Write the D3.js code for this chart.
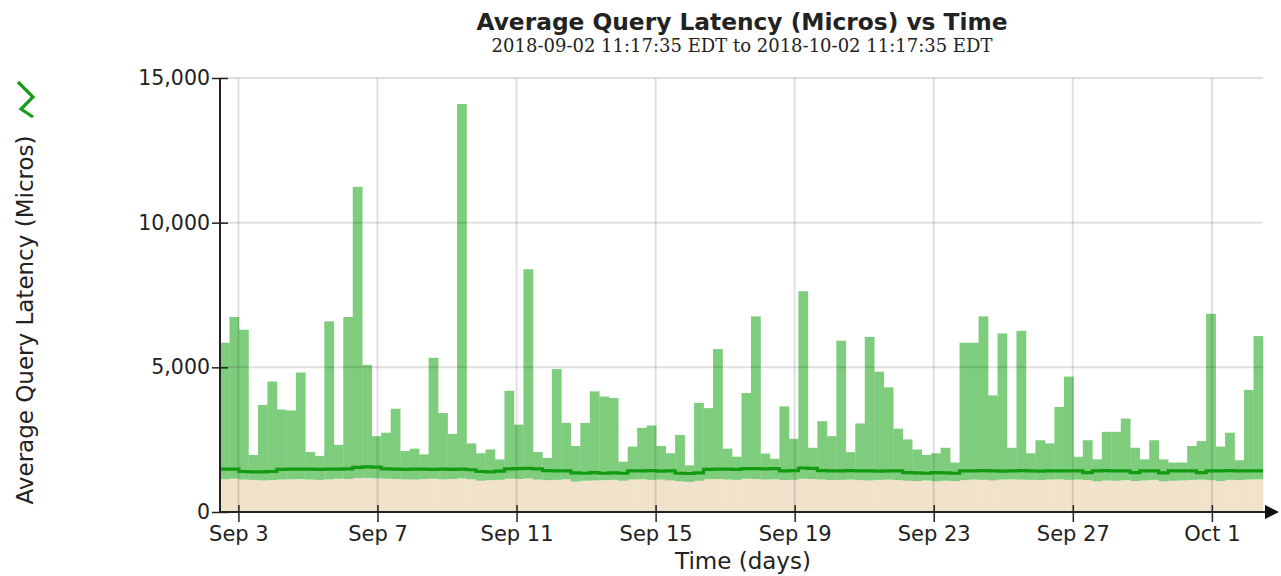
<!DOCTYPE html>
<html>
<head>
<meta charset="utf-8">
<script src="https://cdn.jsdelivr.net/npm/d3@7"></script>
<style>
  body { margin: 0; background: #fff; }
  svg text { font-family: "DejaVu Sans", sans-serif; fill: #222; }
  .sub { font-family: "DejaVu Serif", serif; }
</style>
</head>
<body>
<svg id="chart" width="1281" height="576"></svg>
<script>
// ── Data: 110 sample bins, 2018-09-02 11:17:35 → 2018-10-02 11:17:35 (EDT) ──
const rangeStart = new Date("2018-09-02T11:17:35");
const rangeEnd   = new Date("2018-10-02T11:17:35");

// max latency per bin (µs) — light green bars
const maxLatency = [
  5850, 6740, 6300, 1970, 3700, 4510, 3540, 3510, 4820, 2070,
  1940, 6590, 2320, 6740, 11240, 5080, 2620, 2740, 3570, 2110,
  2190, 1990, 5330, 3420, 2700, 14100, 2370, 2030, 2160, 1820,
  4190, 3020, 8390, 2070, 1870, 4940, 3080, 2280, 3080, 4170,
  3990, 3940, 1740, 2260, 2910, 2990, 2280, 2030, 2660, 1610,
  3770, 3590, 5630, 2190, 1910, 4110, 6760, 2020, 1840, 3650,
  2530, 7630, 2220, 3140, 2620, 5920, 2070, 3060, 6050, 4850,
  4310, 2880, 2510, 2160, 1970, 2030, 2220, 1710, 5850, 5850,
  6760, 4030, 6170, 2220, 6260, 2030, 2480, 2370, 3630, 4680,
  1910, 2480, 1820, 2770, 2770, 3230, 2220, 1820, 2480, 1820,
  1710, 1710, 2280, 2450, 6850, 2260, 2740, 1790, 4220, 6080
];

// mean latency per bin (µs) — dark green line
const avgLatency = [
  1480, 1480, 1400, 1390, 1390, 1400, 1470, 1480, 1480, 1480,
  1470, 1480, 1480, 1490, 1540, 1560, 1550, 1490, 1480, 1470,
  1480, 1480, 1470, 1480, 1470, 1480, 1460, 1400, 1390, 1410,
  1490, 1500, 1510, 1490, 1430, 1420, 1420, 1350, 1340, 1360,
  1340, 1350, 1340, 1420, 1420, 1430, 1410, 1420, 1340, 1330,
  1350, 1470, 1480, 1480, 1470, 1500, 1500, 1490, 1500, 1420,
  1430, 1520, 1510, 1430, 1420, 1420, 1430, 1420, 1420, 1410,
  1420, 1420, 1360, 1350, 1340, 1360, 1350, 1340, 1420, 1420,
  1430, 1420, 1410, 1420, 1430, 1420, 1410, 1420, 1420, 1420,
  1420, 1360, 1420, 1430, 1420, 1420, 1360, 1420, 1420, 1350,
  1420, 1420, 1420, 1360, 1420, 1420, 1430, 1420, 1420, 1420
];

// min latency per bin (µs) — tan area
const minLatency = [
  1130, 1150, 1120, 1110, 1090, 1100, 1120, 1130, 1140, 1120,
  1110, 1130, 1150, 1140, 1170, 1180, 1160, 1150, 1140, 1130,
  1120, 1140, 1150, 1130, 1140, 1160, 1130, 1080, 1100, 1110,
  1150, 1140, 1160, 1120, 1100, 1110, 1130, 1050, 1080, 1090,
  1100, 1110, 1080, 1120, 1130, 1110, 1120, 1090, 1060, 1040,
  1080, 1130, 1140, 1120, 1110, 1150, 1140, 1120, 1130, 1100,
  1110, 1150, 1140, 1120, 1100, 1110, 1120, 1100, 1090, 1110,
  1120, 1100, 1080, 1070, 1090, 1060, 1080, 1070, 1100, 1120,
  1110, 1090, 1120, 1130, 1120, 1110, 1100, 1120, 1130, 1110,
  1120, 1100, 1060, 1090, 1080, 1100, 1070, 1090, 1110, 1060,
  1080, 1090, 1110, 1120, 1100, 1070, 1110, 1100, 1120, 1130
];

const yTicks = [0, 5000, 10000, 15000];
const xTicks = ["2018-09-03", "2018-09-07", "2018-09-11", "2018-09-15",
                "2018-09-19", "2018-09-23", "2018-09-27", "2018-10-01"];

const chartTitle = "Average Query Latency (Micros) vs Time";
const chartSub   = "2018-09-02 11:17:35 EDT to 2018-10-02 11:17:35 EDT";
const yLabel     = "Average Query Latency (Micros)";
const xLabel     = "Time (days)";

// ── Layout ─────────────────────────────────────────────────────────────
const L = 220, R = 1263, T = 78, B = 512;
const svg = d3.select("#chart");

const x = d3.scaleTime().domain([rangeStart, rangeEnd]).range([L, R]);
const y = d3.scaleLinear().domain([0, 15000]).range([B, T]);

const binMs = (rangeEnd - rangeStart) / maxLatency.length;
const bins = maxLatency.map((mx, i) => ({
  t0: new Date(+rangeStart + i * binMs),
  t1: new Date(+rangeStart + (i + 1) * binMs),
  max: mx, avg: avgLatency[i], min: minLatency[i]
}));

// tan min area
svg.append("g").selectAll("rect")
  .data(bins).join("rect")
  .attr("x", d => x(d.t0)).attr("width", d => x(d.t1) - x(d.t0) + 0.3)
  .attr("y", d => y(d.min)).attr("height", d => y(0) - y(d.min))
  .attr("fill", "#f1e2cb");

// green max bars (min → max)
svg.append("g").selectAll("rect")
  .data(bins).join("rect")
  .attr("x", d => x(d.t0)).attr("width", d => x(d.t1) - x(d.t0) + 0.3)
  .attr("y", d => y(d.max)).attr("height", d => y(d.min) - y(d.max))
  .attr("fill", "#7ecd7c");

// grid (drawn over the data, faint)
const grid = svg.append("g").attr("stroke", "#000").attr("stroke-opacity", 0.12).attr("stroke-width", 2);
grid.selectAll("line.h").data(yTicks.filter(v => v > 0)).join("line")
  .attr("x1", L).attr("x2", R).attr("y1", d => y(d)).attr("y2", d => y(d));
grid.selectAll("line.v").data(xTicks).join("line")
  .attr("x1", d => x(new Date(d + "T00:00:00"))).attr("x2", d => x(new Date(d + "T00:00:00")))
  .attr("y1", T).attr("y2", B);

// mean line
const avgLine = d3.line()
  .x((d, i) => i < bins.length ? x(d.t0) : x(d.t1))
  .y(d => y(d.avg))
  .curve(d3.curveStepAfter);
svg.append("path")
  .datum([...bins, bins[bins.length - 1]])
  .attr("d", avgLine)
  .attr("fill", "none").attr("stroke", "#129b12").attr("stroke-width", 3.2);

// y axis
const yAxis = svg.append("g").attr("transform", `translate(${L},0)`)
  .call(d3.axisLeft(y).tickValues(yTicks).tickFormat(d3.format(",")).tickSize(8).tickPadding(2));
yAxis.select(".domain").remove();
yAxis.selectAll(".tick line").attr("x1", 8).attr("stroke", "#222").attr("stroke-width", 1.5);
yAxis.selectAll(".tick text").attr("font-size", 20.5).attr("fill", "#222")
  .attr("font-family", "DejaVu Sans");
svg.append("line").attr("x1", L).attr("x2", L).attr("y1", T).attr("y2", B)
  .attr("stroke", "#222").attr("stroke-width", 2);

// x axis
const xAxis = svg.append("g").attr("transform", `translate(0,${B})`)
  .call(d3.axisBottom(x).tickValues(xTicks.map(d => new Date(d + "T00:00:00")))
    .tickFormat(d3.timeFormat("%b %-d")).tickSize(10));
xAxis.select(".domain").remove();
xAxis.selectAll(".tick line").attr("y1", -7).attr("stroke", "#222").attr("stroke-width", 1.5);
xAxis.selectAll(".tick text").attr("y", 14).attr("font-size", 21).attr("fill", "#222")
  .attr("font-family", "DejaVu Sans");
svg.append("line").attr("x1", L).attr("x2", R + 4).attr("y1", B).attr("y2", B)
  .attr("stroke", "#222").attr("stroke-width", 2);
svg.append("path")
  .attr("d", `M${R + 2},${B - 7} L${R + 16},${B} L${R + 2},${B + 7} Z`)
  .attr("fill", "#111");

// titles
svg.append("text").attr("x", 742).attr("y", 30).attr("text-anchor", "middle")
  .attr("font-size", 23.3).attr("font-weight", "bold").text(chartTitle);
svg.append("text").attr("class", "sub").attr("x", 742).attr("y", 52).attr("text-anchor", "middle")
  .attr("font-size", 18).text(chartSub);
svg.append("text").attr("transform", "rotate(-90)")
  .attr("x", -320).attr("y", 33).attr("text-anchor", "middle")
  .attr("font-size", 23).text(yLabel);
svg.append("text").attr("x", 743).attr("y", 569).attr("text-anchor", "middle")
  .attr("font-size", 23).text(xLabel);

// green chevron icon, top left
svg.append("polyline")
  .attr("points", "18,82 33,97 21,109 33,117")
  .attr("fill", "none").attr("stroke", "#1a9a1a").attr("stroke-width", 3.2)
  .attr("stroke-linejoin", "miter");
</script>
</body>
</html>
